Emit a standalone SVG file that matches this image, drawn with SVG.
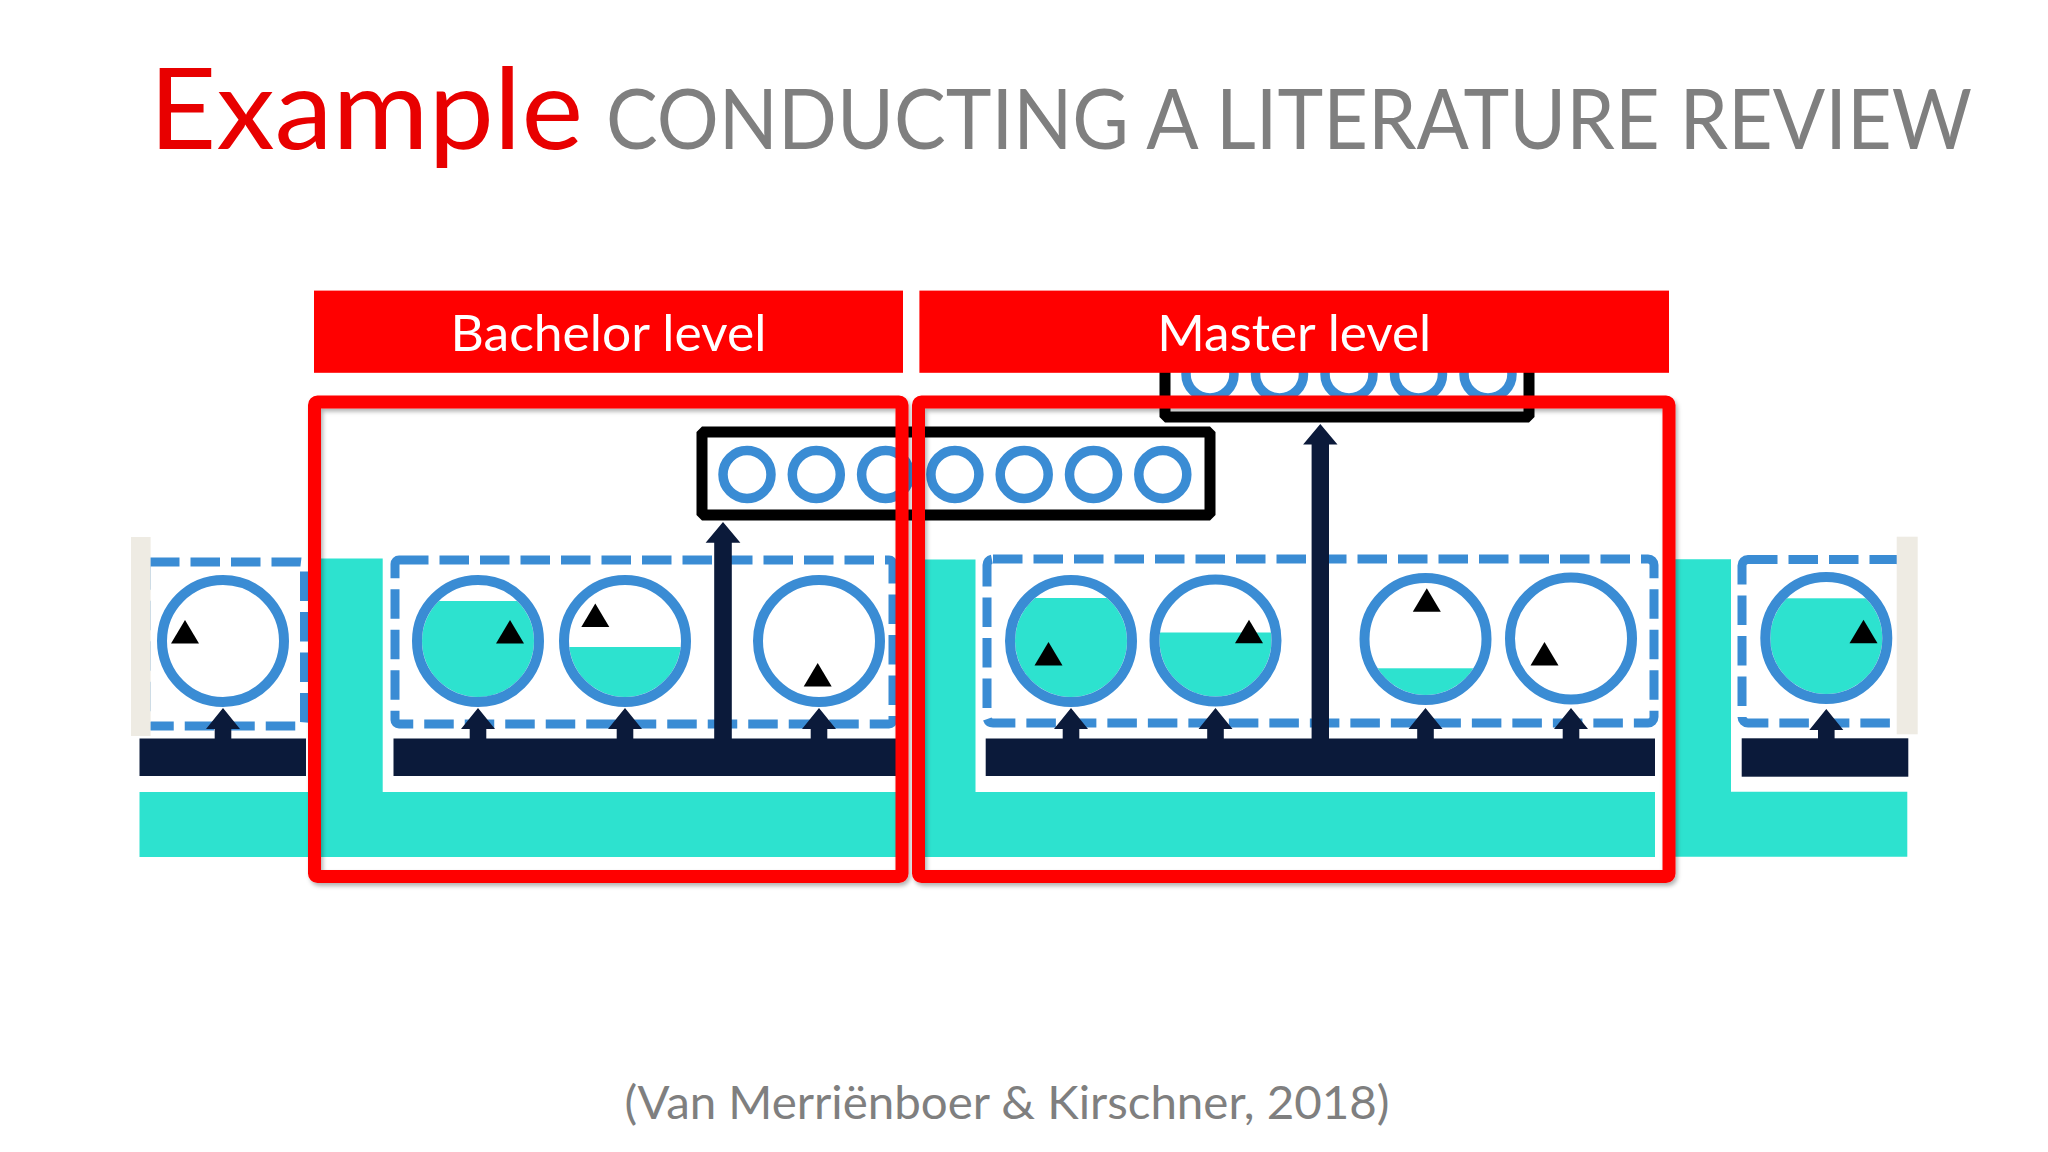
<svg xmlns="http://www.w3.org/2000/svg" width="2048" height="1152" viewBox="0 0 2048 1152">
<style>
.teal{fill:#2DE2CF}
.navy{fill:#0B1A3A}
.dash{fill:none;stroke:#3A8CD4;stroke-width:9;stroke-dasharray:29.5 11}
.ring{fill:none;stroke:#3A8CD4;stroke-width:10}
.sring{fill:none;stroke:#3A8CD4;stroke-width:9.5}
.tri{fill:#000}
.strip{fill:#EEEBE3}
.bbox{fill:#fff;stroke:#000;stroke-width:11;stroke-linejoin:bevel}
.rbar{fill:#FF0000}
.rbox{fill:none;stroke:#FF0000;stroke-width:13}
.lbl{font-family:Lato,"Open Sans",sans-serif;fill:#fff;font-size:50px}
.gray{font-family:Lato,"Open Sans",sans-serif;fill:#7F7F7F}
</style>
<defs>
<clipPath id="inner" clipPathUnits="userSpaceOnUse"><circle cx="0" cy="0" r="56"/></clipPath>
<path id="tri" d="M0,-23.5 L14,0 L-14,0 Z"/>
<path id="sa" d="M0,0 L17,21 L8.3,21 L8.3,31 L-8.3,31 L-8.3,21 L-17,21 Z"/>
<filter id="sh" x="-5%" y="-5%" width="110%" height="110%">
<feDropShadow dx="2" dy="3" stdDeviation="2" flood-color="#000" flood-opacity="0.3"/>
</filter>
</defs>
<rect width="2048" height="1152" fill="#fff"/>

<g id="title">
<text x="149" y="149" font-family="Lato,'Open Sans',sans-serif" font-size="112" fill="#E80000" textLength="434" lengthAdjust="spacingAndGlyphs">Example</text>
<text transform="translate(606,149) scale(0.935,1)" x="0" y="0" class="gray" font-size="84" textLength="1461" lengthAdjust="spacingAndGlyphs">CONDUCTING A LITERATURE REVIEW</text>
</g>

<g id="background">
<rect class="teal" x="139.5" y="792" width="172" height="65"/>
<path class="teal" d="M316,558.6 H382.7 V792 H897 V857 H316 Z"/>
<path class="teal" d="M920,559.4 H975.5 V792 H1655 V857 H920 Z"/>
<path class="teal" d="M1670,559.3 H1731 V791.7 H1907.3 V856.7 H1670 Z"/>
<rect class="navy" x="139.5" y="738.5" width="166.5" height="37.5"/>
<rect class="navy" x="393.5" y="738.5" width="504.5" height="37.5"/>
<rect class="navy" x="985.7" y="738.5" width="669.3" height="37.5"/>
<rect class="navy" x="1741.7" y="738.3" width="166.6" height="38.4"/>
</g>

<g id="groups">
<rect class="dash" x="146" y="562" width="158.5" height="164" rx="4"/>
<rect class="dash" x="395" y="560" width="498" height="164" rx="4"/>
<rect class="dash" x="987" y="559" width="667" height="164" rx="6"/>
<rect class="dash" x="1742" y="559.5" width="160" height="163.5" rx="6"/>
<rect class="strip" x="131" y="537" width="19.6" height="199"/>
<rect class="strip" x="1896.7" y="536.7" width="21" height="197.6"/>
</g>

<g id="task-left" transform="translate(223,641)">
<circle class="ring" r="61"/>
<use href="#tri" class="tri" x="-38" y="2.6"/>
</g>
<g id="task-b1" transform="translate(478,641)">
<rect class="teal" x="-60" y="-40" width="120" height="110" clip-path="url(#inner)"/>
<circle class="ring" r="61"/>
<use href="#tri" class="tri" x="32" y="2.6"/>
</g>
<g id="task-b2" transform="translate(625,641)">
<rect class="teal" x="-60" y="6" width="120" height="70" clip-path="url(#inner)"/>
<circle class="ring" r="61"/>
<use href="#tri" class="tri" x="-29.7" y="-14"/>
</g>
<g id="task-b3" transform="translate(819,641)">
<circle class="ring" r="61"/>
<use href="#tri" class="tri" x="-1.3" y="45.4"/>
</g>
<g id="task-m1" transform="translate(1071,641)">
<rect class="teal" x="-60" y="-43" width="120" height="110" clip-path="url(#inner)"/>
<circle class="ring" r="61"/>
<use href="#tri" class="tri" x="-22.5" y="24.4"/>
</g>
<g id="task-m2" transform="translate(1215.5,640.5)">
<rect class="teal" x="-60" y="-8" width="120" height="80" clip-path="url(#inner)"/>
<circle class="ring" r="61"/>
<use href="#tri" class="tri" x="33.5" y="2.8"/>
</g>
<g id="task-m3" transform="translate(1425.5,639)">
<rect class="teal" x="-60" y="29.3" width="120" height="40" clip-path="url(#inner)"/>
<circle class="ring" r="61"/>
<use href="#tri" class="tri" x="1.3" y="-27.3"/>
</g>
<g id="task-m4" transform="translate(1571,638.5)">
<circle class="ring" r="61"/>
<use href="#tri" class="tri" x="-26.5" y="27"/>
</g>
<g id="task-right" transform="translate(1826.3,638)">
<rect class="teal" x="-60" y="-39.7" width="120" height="110" clip-path="url(#inner)"/>
<circle class="ring" r="61"/>
<use href="#tri" class="tri" x="37.2" y="5.3"/>
</g>

<g id="connectors" class="navy">
<use href="#sa" x="223" y="708"/>
<use href="#sa" x="478" y="708"/>
<use href="#sa" x="625" y="708"/>
<use href="#sa" x="819" y="708"/>
<use href="#sa" x="1071" y="708"/>
<use href="#sa" x="1215.5" y="708"/>
<use href="#sa" x="1425.5" y="708"/>
<use href="#sa" x="1571" y="708"/>
<use href="#sa" x="1826.3" y="709"/>
<path d="M723,522 L740.4,542.8 L731.8,542.8 L731.8,740 L714.2,740 L714.2,542.8 L705.6,542.8 Z"/>
<path d="M1320.3,424 L1337.5,444.5 L1329,444.5 L1329,740 L1311.6,740 L1311.6,444.5 L1303.1,444.5 Z"/>
</g>

<g id="collection-bachelor">
<rect class="bbox" x="702" y="432" width="508" height="83"/>
<circle class="sring" cx="747" cy="474.5" r="24"/>
<circle class="sring" cx="816.3" cy="474.5" r="24"/>
<circle class="sring" cx="885.6" cy="474.5" r="24"/>
<circle class="sring" cx="954.9" cy="474.5" r="24"/>
<circle class="sring" cx="1024.2" cy="474.5" r="24"/>
<circle class="sring" cx="1093.5" cy="474.5" r="24"/>
<circle class="sring" cx="1162.8" cy="474.5" r="24"/>
</g>

<g id="collection-master">
<rect class="bbox" x="1165" y="335" width="364" height="82"/>
<circle class="sring" cx="1210" cy="374" r="24"/>
<circle class="sring" cx="1279.5" cy="374" r="24"/>
<circle class="sring" cx="1349" cy="374" r="24"/>
<circle class="sring" cx="1418.5" cy="374" r="24"/>
<circle class="sring" cx="1488" cy="374" r="24"/>
</g>

<g id="bachelor-header">
<rect class="rbar" x="314" y="290.6" width="589" height="82.2"/>
<text class="lbl" x="608.5" y="351" text-anchor="middle" textLength="316" lengthAdjust="spacingAndGlyphs">Bachelor level</text>
</g>
<g id="master-header">
<rect class="rbar" x="919.4" y="290.6" width="749.6" height="82.2"/>
<text class="lbl" x="1294.2" y="351" text-anchor="middle" textLength="274" lengthAdjust="spacingAndGlyphs">Master level</text>
</g>

<g id="frames" filter="url(#sh)">
<rect id="bachelor-frame" class="rbox" x="314.5" y="402" width="587.5" height="474.5" rx="3"/>
<rect id="master-frame" class="rbox" x="918.5" y="402" width="750.5" height="474.5" rx="3"/>
</g>

<g id="citation">
<text x="1007" y="1119" class="gray" font-size="46" text-anchor="middle" textLength="765" lengthAdjust="spacingAndGlyphs">(Van Merriënboer &amp; Kirschner, 2018)</text>
</g>
</svg>
